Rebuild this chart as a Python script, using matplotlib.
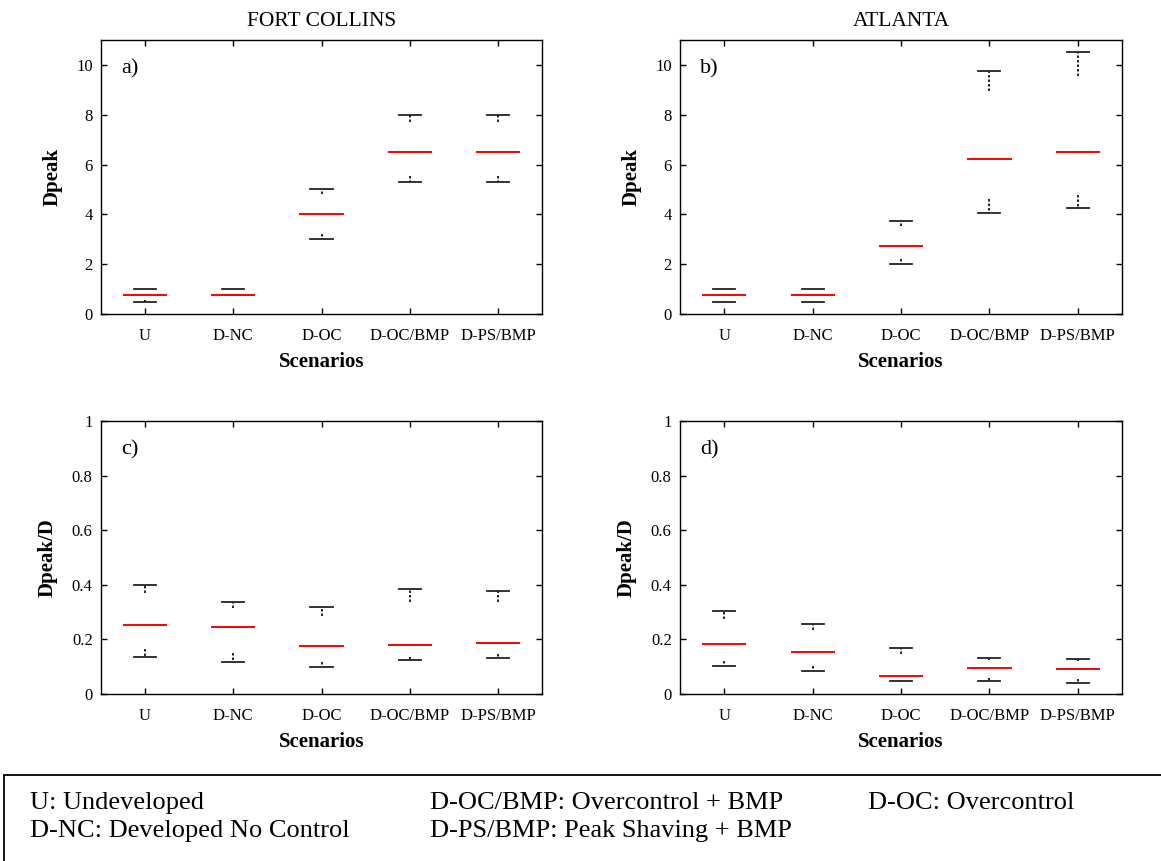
import matplotlib
matplotlib.use("Agg")
import matplotlib.pyplot as plt
from matplotlib.ticker import FuncFormatter
from matplotlib.patches import Rectangle

plt.rcParams['font.family'] = ['Liberation Serif', 'DejaVu Serif']

scenarios = ["U", "D-NC", "D-OC", "D-OC/BMP", "D-PS/BMP"]

# Panel a) Fort Collins, Dpeak
a_lo  = [0.50, 0.75, 3.00, 5.30, 5.30]
a_q1  = [0.55, 0.75, 3.20, 5.55, 5.55]
a_med = [0.75, 0.75, 4.00, 6.50, 6.50]
a_q3  = [1.00, 1.00, 4.82, 7.70, 7.70]
a_hi  = [1.00, 1.00, 5.00, 8.00, 8.00]

# Panel b) Atlanta, Dpeak
b_lo  = [0.50, 0.50, 2.00, 4.06, 4.26]
b_q1  = [0.52, 0.52, 2.19, 4.60, 4.78]
b_med = [0.75, 0.75, 2.74, 6.23, 6.49]
b_q3  = [1.00, 1.00, 3.55, 8.97, 9.57]
b_hi  = [1.00, 1.00, 3.75, 9.77, 10.53]

# Panel c) Fort Collins, Dpeak/D
c_lo  = [0.135, 0.119, 0.100, 0.123, 0.133]
c_q1  = [0.166, 0.150, 0.116, 0.136, 0.146]
c_med = [0.252, 0.245, 0.174, 0.179, 0.186]
c_q3  = [0.369, 0.315, 0.284, 0.337, 0.337]
c_hi  = [0.401, 0.336, 0.317, 0.384, 0.378]

# Panel d) Atlanta, Dpeak/D
d_lo  = [0.104, 0.086, 0.046, 0.048, 0.042]
d_q1  = [0.120, 0.102, 0.053, 0.058, 0.056]
d_med = [0.182, 0.153, 0.067, 0.097, 0.092]
d_q3  = [0.274, 0.233, 0.145, 0.126, 0.122]
d_hi  = [0.303, 0.255, 0.167, 0.131, 0.127]

legend_col1 = ["U: Undeveloped", "D-NC: Developed No Control"]
legend_col2 = ["D-OC/BMP: Overcontrol + BMP", "D-PS/BMP: Peak Shaving + BMP"]
legend_col3 = ["D-OC: Overcontrol"]

W, H = 1161, 861
fig = plt.figure(figsize=(W / 100, H / 100), dpi=100)


def ax_at(x0, y0, x1, y1):
    return fig.add_axes([x0 / W, 1 - y1 / H, (x1 - x0) / W, (y1 - y0) / H])


def panel(ax, lo, q1, med, q3, hi, ylim, yticks, ylabel, letter):
    stats = []
    for i in range(len(scenarios)):
        stats.append(dict(whislo=lo[i], q1=q1[i], med=med[i], q3=q3[i], whishi=hi[i], label=scenarios[i]))
    pos = list(range(1, len(scenarios) + 1))
    ax.bxp(stats, positions=pos, widths=0.5, showbox=False, showfliers=False,
           capwidths=0.25,
           medianprops=dict(color='#ff0000', linewidth=1.4),
           whiskerprops=dict(color='black', linestyle=(0, (1.5, 1.2)), linewidth=1.2),
           capprops=dict(color='#222222', linewidth=1.3))
    ax.set_xlim(0.5, len(scenarios) + 0.5)
    ax.set_ylim(*ylim)
    ax.set_yticks(yticks)
    ax.yaxis.set_major_formatter(FuncFormatter(lambda v, p: "%g" % round(v, 3)))
    ax.set_xticks(pos)
    ax.set_xticklabels(scenarios)
    ax.tick_params(direction='in', top=True, right=True, length=4, width=1,
                   labelsize=12, pad=10)
    ax.tick_params(axis='y', pad=6)
    for s in ax.spines.values():
        s.set_linewidth(1.0)
    ax.set_xlabel("Scenarios", fontsize=15, fontweight='bold', labelpad=6)
    ax.set_ylabel(ylabel, fontsize=15, fontweight='bold', labelpad=10)
    ax.text(0.045, 0.93, letter, transform=ax.transAxes, fontsize=16, va='top', ha='left')


ax_a = ax_at(101, 40, 542, 314)
ax_b = ax_at(680, 40, 1122, 314)
ax_c = ax_at(101, 421, 542, 694)
ax_d = ax_at(680, 421, 1122, 694)

panel(ax_a, a_lo, a_q1, a_med, a_q3, a_hi, (0, 11), [0, 2, 4, 6, 8, 10], "Dpeak", "a)")
panel(ax_b, b_lo, b_q1, b_med, b_q3, b_hi, (0, 11), [0, 2, 4, 6, 8, 10], "Dpeak", "b)")
panel(ax_c, c_lo, c_q1, c_med, c_q3, c_hi, (0, 1), [0, 0.2, 0.4, 0.6, 0.8, 1.0], "Dpeak/D", "c)")
panel(ax_d, d_lo, d_q1, d_med, d_q3, d_hi, (0, 1), [0, 0.2, 0.4, 0.6, 0.8, 1.0], "Dpeak/D", "d)")

ax_a.set_title("FORT COLLINS", fontsize=15.5, pad=10)
ax_b.set_title("ATLANTA", fontsize=15.5, pad=10)

# legend box
fig.patches.append(Rectangle((4 / W, -0.05), 1.1, 1 - 775 / H + 0.05, transform=fig.transFigure,
                             fill=False, edgecolor='black', linewidth=1.3, clip_on=False))
xcols = [30, 430, 868]
ylines = [803, 831]
for x, col in zip(xcols, [legend_col1, legend_col2, legend_col3]):
    for y, t in zip(ylines, col):
        fig.text(x / W, 1 - y / H, t, fontsize=19, va='center', ha='left')

fig.savefig("out.png", dpi=100)
